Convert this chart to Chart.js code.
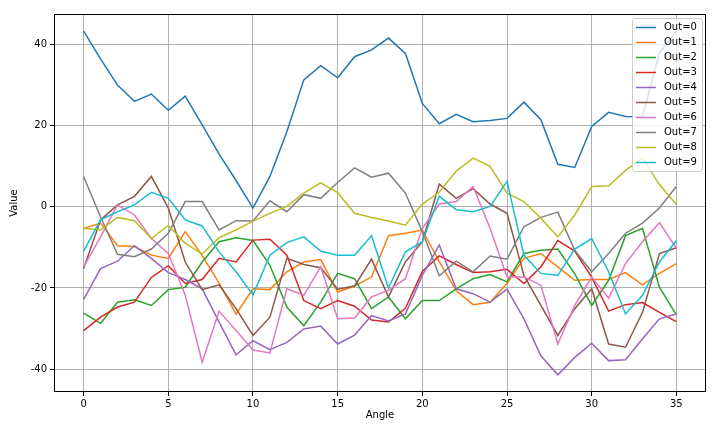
<!DOCTYPE html>
<html><head><meta charset="utf-8">
<script src="https://cdn.jsdelivr.net/npm/chart.js@4"></script>
<style>html,body{margin:0;padding:0;background:#fff;}</style>
</head><body>
<canvas id="c" width="720" height="432"></canvas>
<script>
const angles = [0,1,2,3,4,5,6,7,8,9,10,11,12,13,14,15,16,17,18,19,20,21,22,23,24,25,26,27,28,29,30,31,32,33,34,35];
const seriesLabels = ['Out=0','Out=1','Out=2','Out=3','Out=4','Out=5','Out=6','Out=7','Out=8','Out=9'];
const out0 = [43.3,36.5,30,26,27.8,23.8,27.3,20.2,13,6.5,-0.3,7.5,18.5,31.3,34.8,31.8,37,38.7,41.6,37.8,25.5,20.5,22.8,21,21.3,21.8,25.8,21.5,10.5,9.7,19.8,23.3,22.3,22.2,38,43.3];
const out1 = [-5.3,-4,-9.6,-9.8,-11.9,-12.7,-6.1,-12,-18.8,-26.4,-20.2,-20.4,-16,-13.6,-13,-21,-19.5,-17.3,-7.1,-6.5,-5.7,-13.5,-20.7,-24.1,-23.5,-18.9,-12.7,-11.5,-14.8,-18.1,-17.9,-17.9,-16.2,-19.2,-16.4,-14];
const out2 = [-26.2,-28.7,-23.5,-22.9,-24.3,-20.4,-19.8,-13.6,-8.6,-7.6,-8.3,-14.4,-24.7,-29.3,-23.5,-16.4,-17.7,-25.1,-22.2,-27.6,-23.1,-23.1,-20.2,-17.7,-16.7,-18.5,-11.5,-10.7,-10.4,-16.5,-24.3,-18.1,-7.1,-5.3,-19.8,-26.6];
const out3 = [-30.5,-27.2,-24.7,-23.5,-17.4,-14.5,-18.9,-17.9,-12.7,-13.6,-8.2,-8,-11.9,-23.1,-25.1,-23.1,-24.5,-27.9,-28.4,-25,-15.9,-12.1,-14.2,-16.2,-16,-15.4,-18.9,-14.8,-8.3,-10.9,-17.3,-25.7,-24.1,-23.6,-26,-28.3];
const out4 = [-22.8,-15.2,-13.4,-9.6,-12.7,-16.2,-17.9,-20.2,-28.4,-36.5,-33,-35.2,-33.4,-30.1,-29.4,-33.8,-31.6,-26.8,-28.1,-26.4,-16.9,-9.4,-20.2,-21.4,-23.5,-20.3,-27.6,-36.7,-41.4,-37.1,-33.6,-37.9,-37.7,-32.5,-27.6,-26.4];
const out5 = [-15.2,-3.2,0.5,2.6,7.5,-0.3,-13.6,-20.4,-19.2,-25.1,-31.7,-27.2,-12.7,-14.2,-15,-20.3,-19.5,-12.9,-22.2,-13.6,-8.6,5.6,2.1,4.5,0.7,-1.6,-16.9,-24.3,-31.7,-25.1,-20.2,-33.8,-34.6,-26,-11.5,-10.1];
const out6 = [-14.8,-7.4,0.5,-2,-7.8,-11.5,-21.8,-38.3,-25.7,-30.5,-35.3,-36,-20.2,-21.8,-14.8,-27.6,-27.4,-22.2,-20.6,-17.7,-5.3,0.7,1.3,5,-5.3,-17.3,-17.3,-19.3,-33.8,-24.3,-17.3,-22.5,-14,-8.6,-3.9,-10.2];
const out7 = [7.5,-2.5,-11.7,-12.3,-10.4,-6.5,1.3,1.3,-5.7,-3.4,-3.5,1.5,-1.2,3,2.1,6,9.6,7.3,8.3,3.4,-6.1,-17,-13.4,-16,-12.1,-12.9,-4.9,-2.6,-1.3,-10.7,-16,-11.5,-6.5,-4,-0.3,5];
const out8 = [-5.3,-5.7,-2.6,-3.4,-7.8,-4.6,-9,-11.6,-7.6,-5.7,-3.5,-1.6,0.1,3.4,5.9,3.5,-1.6,-2.6,-3.5,-4.5,0.7,3.6,8.8,12,10,3.4,1.3,-2.8,-7.4,-2,5,5.2,9,12,5.5,0.6];
const out9 = [-10.9,-3.2,-1.2,0.5,3.6,2.1,-3.2,-4.7,-11.1,-16,-21.7,-11.9,-8.8,-7.4,-10.9,-11.9,-11.9,-7.1,-20,-11.1,-8.6,2.6,-0.7,-1.2,0.1,6.3,-11.9,-16.4,-16.9,-10.4,-7.8,-16,-26.4,-21.8,-13.6,-8.3];
const xTickValues = [0,5,10,15,20,25,30,35];
const yTickValues = [-40,-20,0,20,40];

const allSeries = [out0,out1,out2,out3,out4,out5,out6,out7,out8,out9];
const colors = ['#1f77b4','#ff7f0e','#2ca02c','#d62728','#9467bd','#8c564b','#e377c2','#7f7f7f','#bcbd22','#17becf'];

const flat = allSeries.flat();
const yMinD = Math.min(...flat), yMaxD = Math.max(...flat);
const yPad = (yMaxD - yMinD) * 0.05;
const xMinD = Math.min(...angles), xMaxD = Math.max(...angles);
const xPad = (xMaxD - xMinD) * 0.05;

const datasets = allSeries.map((s, i) => ({
  label: seriesLabels[i],
  data: s.map((v, j) => ({x: angles[j], y: v})),
  borderColor: colors[i],
  backgroundColor: colors[i],
  borderWidth: 1.5,
  pointRadius: 0,
  tension: 0,
  fill: false,
  order: allSeries.length - i
}));

const FONT = 'DejaVu Sans';

const framePlugin = {
  id: 'frameLegend',
  afterDatasetsDraw(chart) {
    const {ctx, chartArea: a} = chart;
    ctx.save();
    ctx.strokeStyle = '#000';
    ctx.lineWidth = 1;
    ctx.strokeRect(Math.round(a.left) + 0.5, Math.round(a.top) + 0.5, Math.round(a.right - a.left) - 1, Math.round(a.bottom - a.top) - 1);
    // legend
    const bx = 632.5, by = 18.5, bw = 70, bh = 153, r = 3;
    ctx.beginPath();
    ctx.moveTo(bx + r, by);
    ctx.lineTo(bx + bw - r, by);
    ctx.arcTo(bx + bw, by, bx + bw, by + r, r);
    ctx.lineTo(bx + bw, by + bh - r);
    ctx.arcTo(bx + bw, by + bh, bx + bw - r, by + bh, r);
    ctx.lineTo(bx + r, by + bh);
    ctx.arcTo(bx, by + bh, bx, by + bh - r, r);
    ctx.lineTo(bx, by + r);
    ctx.arcTo(bx, by, bx + r, by, r);
    ctx.closePath();
    ctx.fillStyle = 'rgba(255,255,255,0.8)';
    ctx.fill();
    ctx.strokeStyle = '#cccccc';
    ctx.stroke();
    ctx.font = '10px "' + FONT + '"';
    ctx.textBaseline = 'middle';
    ctx.textAlign = 'left';
    seriesLabels.forEach((lab, i) => {
      const y = 27.5 + 15 * i;
      ctx.strokeStyle = colors[i];
      ctx.lineWidth = 1.5;
      ctx.beginPath();
      ctx.moveTo(636, y);
      ctx.lineTo(656, y);
      ctx.stroke();
      ctx.fillStyle = '#000';
      ctx.fillText(lab, 664, y);
    });
    ctx.restore();
  }
};

new Chart(document.getElementById('c'), {
  type: 'line',
  data: { datasets },
  options: {
    responsive: false,
    animation: false,
    devicePixelRatio: 1,
    layout: { padding: { left: 4, right: 14, top: 14, bottom: 7 } },
    plugins: { legend: { display: false }, tooltip: { enabled: false } },
    scales: {
      x: {
        type: 'linear',
        min: xMinD - xPad,
        max: xMaxD + xPad,
        afterBuildTicks: s => { s.ticks = xTickValues.map(v => ({value: v})); },
        afterFit: s => { s.height = 33; },
        grid: { color: '#b0b0b0', lineWidth: 1, drawTicks: true, tickLength: 4, tickColor: '#000', tickWidth: 1 },
        border: { display: false },
        ticks: { color: '#000', font: { family: FONT, size: 10 }, padding: 2, maxRotation: 0, autoSkip: false },
        title: { display: true, text: 'Angle', color: '#000', font: { family: FONT, size: 10 }, padding: 4 }
      },
      y: {
        type: 'linear',
        min: yMinD - yPad,
        max: yMaxD + yPad,
        afterBuildTicks: s => { s.ticks = yTickValues.map(v => ({value: v})); },
        afterFit: s => { s.width = 50; },
        grid: { color: '#b0b0b0', lineWidth: 1, drawTicks: true, tickLength: 4, tickColor: '#000', tickWidth: 1 },
        border: { display: false },
        ticks: { color: '#000', font: { family: FONT, size: 10 }, padding: 3, autoSkip: false },
        title: { display: true, text: 'Value', color: '#000', font: { family: FONT, size: 10 }, padding: 4 }
      }
    }
  },
  plugins: [framePlugin]
});
</script>
</body></html>
